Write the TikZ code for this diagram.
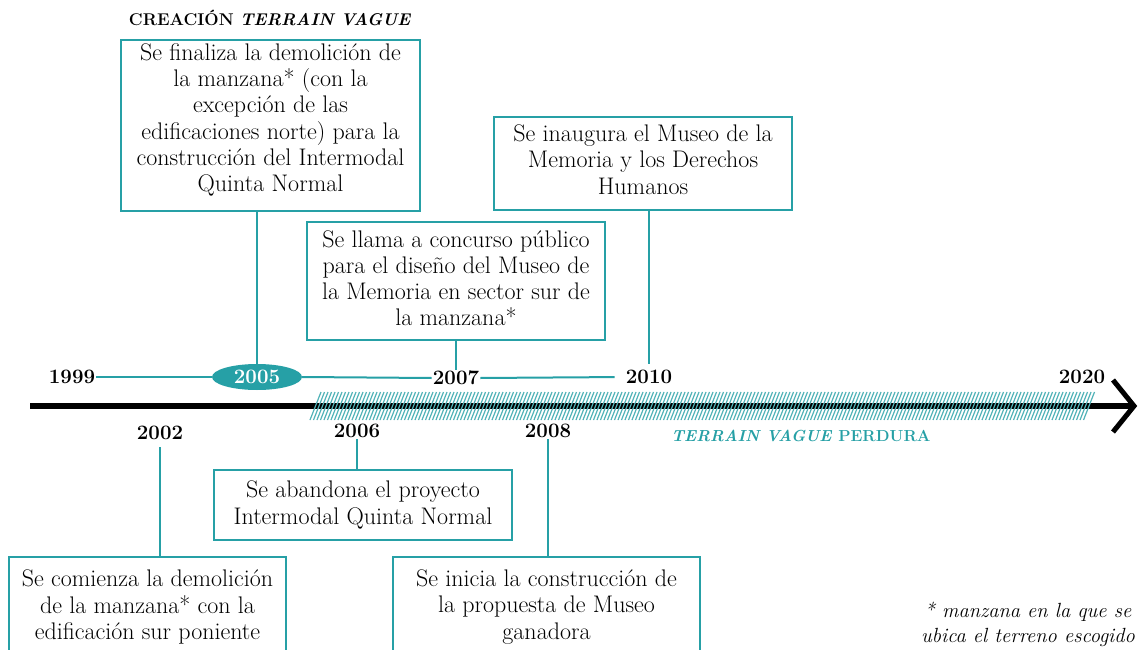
\documentclass[tikz,border=0pt]{standalone}
\usepackage{fontspec}
\usetikzlibrary{shapes.geometric}
\definecolor{teal1}{RGB}{38,160,166}
\newcommand{\lowpad}[1]{\rule[-#1pt]{0pt}{#1pt}}
\begin{document}
\begin{tikzpicture}[x=1pt,y=-1pt,
  box/.style={draw=teal1, line width=2pt, align=center, inner sep=0pt, font=\fontsize{24}{26.2}\selectfont},
  yr/.style={font=\bfseries\fontsize{20.5}{22}\selectfont, inner sep=1pt},
  conn/.style={draw=teal1, line width=2pt}]
\useasboundingbox (0,0) rectangle (1140,650);
\fill[white] (0,0) rectangle (1140,650);

% title
\node[font=\bfseries\fontsize{17}{20}\selectfont] (title) at (270,18) {CREACIÓN \textit{TERRAIN VAGUE}};

% boxes
\node[box, minimum width=299pt, minimum height=171pt] (b2005) at (270.5,125.5)
  {Se finaliza la demolición de\\ la manzana* (con la\\ excepción de las\\ edificaciones norte) para la\\ construcción del Intermodal\\ Quinta Normal\lowpad{16}};
\node[box, minimum width=298pt, minimum height=118pt] (b2007) at (456,281)
  {Se llama a concurso público\\ para el diseño del Museo de\\ la Memoria en sector sur de\\ la manzana*\lowpad{6}};
\node[box, minimum width=298pt, minimum height=93pt] (b2010) at (643,163.5)
  {Se inaugura el Museo de la\\ Memoria y los Derechos\\ Humanos\lowpad{8}};
\node[box, minimum width=298pt, minimum height=70pt] (b2006) at (363,505)
  {Se abandona el proyecto\\ Intermodal Quinta Normal};
\node[box, minimum width=277pt, minimum height=100pt] (b2002) at (147.5,607)
  {Se comienza la demolición\\ de la manzana* con la\\ edificación sur poniente};
\node[box, minimum width=307pt, minimum height=100pt] (b2008) at (546.5,607)
  {Se inicia la construcción de\\ la propuesta de Museo\\ ganadora};

% years
\node[yr] (y1999) at (72,377) {1999};
\node[yr, ellipse, fill=teal1, text=white, minimum width=90pt, minimum height=26pt, inner sep=0pt] (e2005) at (257,377) {2005};
\node[yr] (y2007) at (456,378) {2007};
\node[yr] (y2010) at (649,377) {2010};
\node[yr] (y2020) at (1082,377) {2020};
\node[yr] (y2002) at (160,433) {2002};
\node[yr] (y2006) at (357,431) {2006};
\node[yr] (y2008) at (548,431) {2008};

% upper timeline
\draw[conn] (y1999.east) -- (e2005.west);
\draw[conn] (e2005.east) -- (y2007.west);
\draw[conn, shorten >=10pt] (y2007.east) -- (y2010.west);

% connectors
\draw[conn] (b2005.south -| e2005.north) -- (e2005.north);
\draw[conn] (b2007.south -| y2007.north) -- (y2007.north);
\draw[conn, shorten >=5pt] (b2010.south -| y2010.north) -- (y2010.north);
\draw[conn, shorten <=6pt] (y2002.south) -- (b2002.north -| y2002.south);
\draw[conn] (y2006.south) -- (b2006.north -| y2006.south);
\draw[conn] (y2008.south) -- (b2008.north -| y2008.south);

% main axis
\coordinate (axL) at (30,406);
\coordinate (axR) at (1134,406);
\draw[line width=6pt] (axL) -- (axR);
\foreach \x in {310,313.5,...,1086} \draw[teal1!80, line width=1.2pt] (\x,420) -- (\x+11,392);
\draw[line width=5pt, miter limit=10] ([shift={(-21,-26)}]axR) -- (axR) -- ([shift={(-21,26)}]axR);

\node[text=teal1, font=\bfseries\fontsize{16}{20}\selectfont] (perd) at (801,436) {\textit{TERRAIN VAGUE} PERDURA};

% footnote
\node[align=center, font=\itshape\fontsize{20.5}{25}\selectfont] (note) at (1028,624) {* manzana en la que se\\ ubica el terreno escogido};
\end{tikzpicture}
\end{document}
